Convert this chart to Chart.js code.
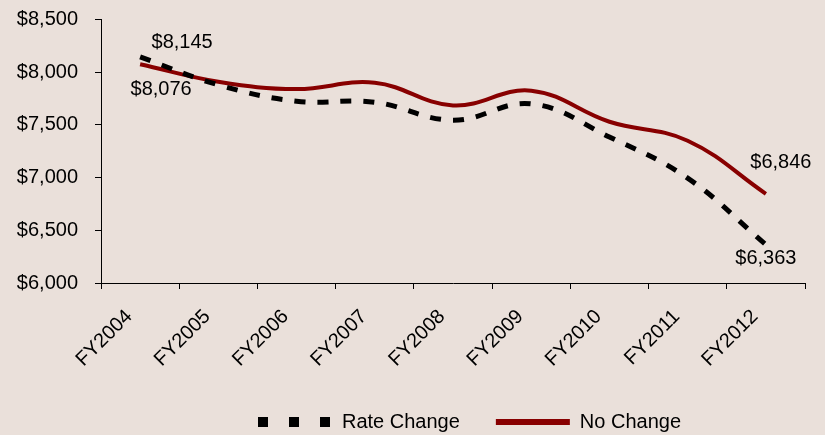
<!DOCTYPE html>
<html>
<head>
<meta charset="utf-8">
<script src="https://cdn.jsdelivr.net/npm/chart.js@4"></script>
<style>
  html, body { margin: 0; padding: 0; background: #eae0da; }
  #wrap { width: 825px; height: 435px; }
</style>
</head>
<body>
<div id="wrap"><canvas id="chart"></canvas></div>
<script>
// data
const years = ['FY2004', 'FY2005', 'FY2006', 'FY2007', 'FY2008', 'FY2009', 'FY2010', 'FY2011', 'FY2012']
const rateChange = [8145, 7880, 7725, 7715, 7545, 7700, 7385, 6995, 6363]
const noChange = [8076, 7910, 7840, 7900, 7685, 7825, 7530, 7350, 6846]
const yTicks = [6000, 6500, 7000, 7500, 8000, 8500]

const money = v => '$' + v.toLocaleString('en-US')
const FONT = { family: 'Arial, "Liberation Sans", sans-serif', size: 20 }
const LEGEND_PAD = 36

// value labels at first / last points: [dataset, index, dx, dy]
const pointLabels = [
  [0, 0, 42, -14],
  [1, 0, 21, 25],
  [1, 8, 15, -31],
  [0, 8, 0, 14],
]

const valueLabels = {
  id: 'valueLabels',
  afterDatasetsDraw(chart) {
    const ctx = chart.ctx
    ctx.save()
    ctx.font = FONT.size + 'px ' + FONT.family
    ctx.fillStyle = '#000'
    ctx.textAlign = 'center'
    ctx.textBaseline = 'middle'
    pointLabels.forEach(([di, i, dx, dy]) => {
      const el = chart.getDatasetMeta(di).data[i]
      const v = chart.data.datasets[di].data[i]
      ctx.fillText(money(v), el.x + dx, el.y + dy)
    })
    ctx.restore()
  },
}

// legend sits right of centre and low, as in the original
const legendShift = {
  id: 'legendShift',
  afterLayout(chart) {
    const lg = chart.legend
    const start = (lg.left + LEGEND_PAD + lg.right - lg.lineWidths[0]) / 2
    const dx = 258 - start
    lg.left += dx
    lg.right += dx
    lg.top = 422 - LEGEND_PAD - FONT.size / 2
    lg.bottom = lg.top + lg.height
  },
}

// eslint-disable-next-line no-unused-vars
const lineChart = new Chart(document.getElementById('chart'), {
  type: 'line',
  data: {
    labels: years,
    datasets: [
      {
        label: 'Rate Change',
        data: rateChange,
        borderColor: '#000',
        backgroundColor: '#000',
        borderWidth: 5,
        borderDash: [11, 12],
        tension: 0.4,
        pointRadius: 0,
      },
      {
        label: 'No Change',
        data: noChange,
        borderColor: '#880000',
        backgroundColor: '#880000',
        borderWidth: 4,
        tension: 0.4,
        pointRadius: 0,
      },
    ],
  },
  options: {
    responsive: true,
    maintainAspectRatio: false,
    animation: false,
    layout: { padding: { top: 19.5, right: 20, left: 0, bottom: 0 } },
    plugins: {
      tooltip: { enabled: false },
      legend: {
        position: 'bottom',
        labels: {
          color: '#000',
          font: FONT,
          usePointStyle: true,
          pointStyle: 'line',
          pointStyleWidth: 74,
          boxHeight: 20,
          padding: LEGEND_PAD,
          generateLabels(chart) {
            const items = Chart.defaults.plugins.legend.labels.generateLabels(chart)
            items[0].lineDash = [10, 21]
            items[0].lineWidth = 10
            items[1].lineWidth = 6
            return items
          },
        },
      },
    },
    scales: {
      x: {
        offset: true,
        grid: { display: true, drawOnChartArea: false, offset: true, color: '#000', tickLength: 6 },
        border: { color: '#000', width: 1 },
        ticks: { color: '#000', font: FONT, minRotation: 45, maxRotation: 45, padding: 16, labelOffset: -11 },
        afterFit(scale) {
          // plot bottom at y=283 whatever height the legend took
          scale.height = Math.max(435 - 283 - scale.chart.legend.height, 1)
          scale.paddingTop = 0
        },
      },
      y: {
        min: 6000,
        max: 8500,
        afterBuildTicks(scale) { scale.ticks = yTicks.map(v => ({ value: v })) },
        grid: { display: true, drawOnChartArea: false, color: '#000', tickLength: 6 },
        border: { color: '#000', width: 1 },
        ticks: { color: '#000', font: FONT, padding: 17, callback: v => money(v) },
        afterFit(scale) {
          scale.width = 101
          scale.paddingTop = 0
        },
      },
    },
  },
  plugins: [valueLabels, legendShift],
})
</script>
</body>
</html>
